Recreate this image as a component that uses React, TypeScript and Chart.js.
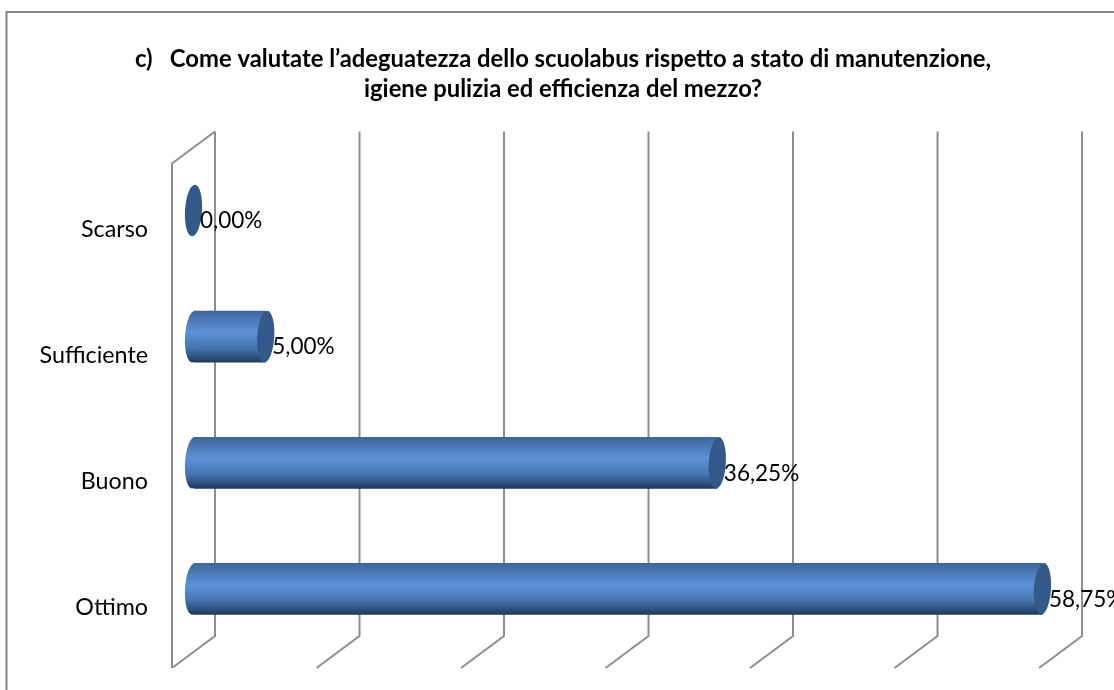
import React, { useEffect, useRef } from "react";
import { Chart, registerables } from "chart.js";

Chart.register(...registerables);

const categories = ["Scarso", "Sufficiente", "Buono", "Ottimo"];
const values = [0, 5, 36.25, 58.75];
const valueLabels = ["0,00%", "5,00%", "36,25%", "58,75%"];
const gridTicks = [0, 10, 20, 30, 40, 50, 60];
const axisMax = 63.7;
const titleLines = [
  "c)\u00A0\u00A0\u00A0Come valutate l’adeguatezza dello scuolabus rispetto a stato di manutenzione,",
  "igiene pulizia ed efficienza del mezzo?",
];

const FONT = "Lato, Carlito, sans-serif";
const GRID = "#8e8e8e";
const CAP = "#33598a";
const DEPTH = 21.5;
const RISE = 16;
const CAP_RX = 8.5;
const TILT = 0.06;

function barGradient(ctx: CanvasRenderingContext2D, top: number, bottom: number) {
  const g = ctx.createLinearGradient(0, top, 0, bottom);
  g.addColorStop(0, "#3d6596");
  g.addColorStop(0.12, "#4673ad");
  g.addColorStop(0.42, "#5b92d8");
  g.addColorStop(0.72, "#4575af");
  g.addColorStop(0.92, "#2a4a74");
  g.addColorStop(1, "#1f3656");
  return g;
}

const chartFramePlugin = {
  id: "chartFrame",
  beforeDraw(chart: any) {
    const ctx = chart.ctx;
    ctx.save();
    ctx.strokeStyle = "#868686";
    ctx.lineWidth = 2;
    ctx.beginPath();
    ctx.moveTo(6.5, chart.height);
    ctx.lineTo(6.5, 12);
    ctx.lineTo(chart.width, 12);
    ctx.stroke();
    ctx.restore();
  },
};

const wallsPlugin = {
  id: "walls",
  beforeDatasetsDraw(chart: any) {
    const { ctx, chartArea, scales } = chart;
    const backTop = chartArea.top - RISE;
    const backBottom = chartArea.bottom - RISE;
    const frontBottom = chartArea.bottom + RISE;
    ctx.save();
    ctx.strokeStyle = GRID;
    ctx.lineWidth = 2;
    ctx.lineCap = "butt";
    ctx.lineJoin = "miter";
    gridTicks.forEach((tick) => {
      const x = scales.x.getPixelForValue(tick);
      ctx.beginPath();
      ctx.moveTo(x + DEPTH, backTop);
      ctx.lineTo(x + DEPTH, backBottom);
      ctx.lineTo(x - DEPTH, frontBottom);
      ctx.stroke();
    });
    const x0 = scales.x.getPixelForValue(gridTicks[0]);
    ctx.beginPath();
    ctx.moveTo(x0 + DEPTH, backTop);
    ctx.lineTo(x0 - DEPTH, chartArea.top + RISE);
    ctx.lineTo(x0 - DEPTH, frontBottom);
    ctx.stroke();
    // rounded far end of each cylinder, behind the bar body
    chart.getDatasetMeta(0).data.forEach((el: any, i: number) => {
      if (values[i] <= 0) return;
      const h = el.height;
      ctx.fillStyle = barGradient(ctx, el.y - h / 2, el.y + h / 2);
      ctx.beginPath();
      ctx.ellipse(el.base, el.y, CAP_RX, h / 2, TILT, 0, Math.PI * 2);
      ctx.fill();
    });
    ctx.restore();
  },
  afterDatasetsDraw(chart: any) {
    const ctx = chart.ctx;
    ctx.save();
    chart.getDatasetMeta(0).data.forEach((el: any, i: number) => {
      ctx.fillStyle = CAP;
      ctx.beginPath();
      ctx.ellipse(el.x, el.y, CAP_RX, el.height / 2, TILT, 0, Math.PI * 2);
      ctx.fill();
      ctx.fillStyle = "#000";
      ctx.font = `22.5px ${FONT}`;
      ctx.textAlign = "left";
      ctx.textBaseline = "middle";
      ctx.fillText(valueLabels[i], el.x + 6.5, el.y + 10.5);
    });
    ctx.restore();
  },
};

export default function App() {
  const ref = useRef<HTMLCanvasElement | null>(null);
  useEffect(() => {
    if (!ref.current) return;
    const chart = new Chart(ref.current, {
      type: "bar",
      data: {
        labels: categories,
        datasets: [
          {
            data: values,
            barPercentage: 0.41,
            categoryPercentage: 1,
            borderWidth: 0,
            backgroundColor: (c: any) => {
              const a = c.chart.chartArea;
              const yScale = c.chart.scales.y;
              if (!a || !yScale) return "#4f81bd";
              const cy = yScale.getPixelForValue(c.dataIndex);
              return barGradient(c.chart.ctx, cy - 26, cy + 26);
            },
          },
        ],
      },
      options: {
        indexAxis: "y",
        responsive: false,
        animation: false,
        layout: { autoPadding: false, padding: { left: 12, right: 0, top: 0, bottom: 38 } },
        plugins: {
          legend: { display: false },
          tooltip: { enabled: false },
          title: {
            display: true,
            text: titleLines,
            color: "#000",
            font: { family: FONT, size: 23.8, weight: "bold", lineHeight: 1.27 },
            padding: { top: 44, bottom: 43 },
          },
        },
        scales: {
          x: { display: false, min: 0, max: axisMax },
          y: {
            grid: { display: false, drawTicks: false },
            border: { display: false },
            afterFit: (s: any) => {
              s.width = 181.5;
              s.paddingTop = 0;
              s.paddingBottom = 0;
            },
            ticks: {
              color: "#000",
              font: { family: FONT, size: 23.3 },
              padding: 45.5,
              labelOffset: 18.5,
              autoSkip: false,
            },
          },
        },
      },
      plugins: [chartFramePlugin, wallsPlugin],
    } as any);
    return () => chart.destroy();
  }, []);
  return (
    <div style={{ position: "absolute", left: 0, top: 0, width: 1114, height: 690, overflow: "hidden", background: "#fff" }}>
      <canvas ref={ref} width={1114} height={690} style={{ display: "block" }} />
    </div>
  );
}
